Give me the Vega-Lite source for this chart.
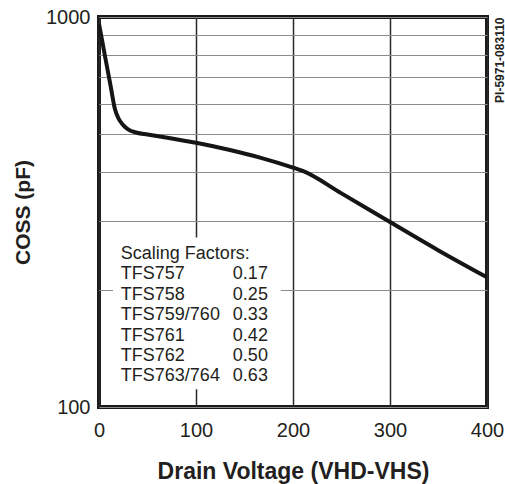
{
  "$schema": "https://vega.github.io/schema/vega-lite/v6.json",
  "width": 388,
  "height": 390,
  "autosize": "none",
  "padding": {"left": 99, "top": 17, "right": 18, "bottom": 77},
  "background": "white",
  "config": {
    "font": "Liberation Sans",
    "view": {"stroke": "#1a1a1a", "strokeWidth": 4},
    "axis": {"labelFont": "Liberation Sans", "titleFont": "Liberation Sans", "labelColor": "#231f20", "titleColor": "#231f20", "domain": false, "ticks": false, "labelFlush": false}
  },
  "datasets": {
    "coss": [
      {"v": 0, "c": 960}, {"v": 4, "c": 849}, {"v": 8, "c": 751}, {"v": 12, "c": 665},
      {"v": 16.5, "c": 580}, {"v": 20, "c": 550}, {"v": 25, "c": 528}, {"v": 30, "c": 515},
      {"v": 39, "c": 505}, {"v": 50, "c": 500}, {"v": 75, "c": 488}, {"v": 100, "c": 476},
      {"v": 135, "c": 456}, {"v": 166, "c": 436}, {"v": 200, "c": 411}, {"v": 210, "c": 403},
      {"v": 250, "c": 353}, {"v": 300, "c": 298}, {"v": 350, "c": 252}, {"v": 400, "c": 215}
    ],
    "box": [{"v": 14.5, "v2": 187.5, "c": 111, "c2": 272}],
    "factors": [
      {"row": 0, "model": "Scaling Factors:", "factor": ""},
      {"row": 1, "model": "TFS757", "factor": "0.17"},
      {"row": 2, "model": "TFS758", "factor": "0.25"},
      {"row": 3, "model": "TFS759/760", "factor": "0.33"},
      {"row": 4, "model": "TFS761", "factor": "0.42"},
      {"row": 5, "model": "TFS762", "factor": "0.50"},
      {"row": 6, "model": "TFS763/764", "factor": "0.63"}
    ]
  },
  "layer": [
    {
      "layer": [
        {
          "data": {"name": "box"},
          "mark": {"type": "rect", "fill": "white"},
          "encoding": {
            "x": {"field": "v", "type": "quantitative", "scale": {"domain": [0, 400], "nice": false}},
            "x2": {"field": "v2"},
            "y": {"field": "c", "type": "quantitative", "scale": {"type": "log", "domain": [100, 1000], "nice": false}, "axis": null},
            "y2": {"field": "c2"}
          }
        },
        {
          "data": {"name": "coss"},
          "mark": {"type": "line", "color": "#151515", "strokeWidth": 4, "interpolate": "monotone", "clip": true},
          "encoding": {
            "x": {
              "field": "v", "type": "quantitative",
              "scale": {"domain": [0, 400], "nice": false},
              "axis": {
                "values": [0, 100, 200, 300, 400], "grid": true, "gridColor": "#2a2a2a", "gridWidth": 1.5,
                "labelFontSize": 20, "labelPadding": 13,
                "title": "Drain Voltage (VHD-VHS)", "titleFontSize": 23, "titleFontWeight": "bold", "titlePadding": 20
              }
            },
            "y": {
              "field": "c", "type": "quantitative",
              "scale": {"type": "log", "domain": [100, 1000], "nice": false},
              "axis": {
                "values": [100, 200, 300, 400, 500, 600, 700, 800, 900, 1000],
                "labelExpr": "datum.value == 100 ? '100' : datum.value == 1000 ? '1000' : ''",
                "grid": true, "gridColor": "#8c8c8c", "gridWidth": 1.2,
                "labelFontSize": 20, "labelPadding": 9,
                "title": "COSS (pF)", "titleFontSize": 21, "titleFontWeight": "bold", "titlePadding": 12
              }
            }
          }
        },
        {
          "data": {"name": "coss"},
          "mark": {"type": "line", "opacity": 0},
          "encoding": {
            "x": {"field": "v", "type": "quantitative"},
            "y": {
              "field": "c", "type": "quantitative",
              "axis": {
                "orient": "right", "labels": false, "ticks": false, "domain": false, "grid": false,
                "title": "PI-5971-083110", "titleFontSize": 12, "titleFontWeight": "bold",
                "titleAngle": 270, "titleAnchor": "end", "titlePadding": 19
              }
            }
          }
        }
      ],
      "resolve": {"axis": {"y": "independent"}}
    },
    {
      "data": {"name": "factors"},
      "mark": {"type": "text", "align": "left", "baseline": "middle", "fontSize": 18, "color": "#231f20"},
      "encoding": {
        "x": {"datum": 22.5, "type": "quantitative"},
        "y": {"field": "row", "type": "quantitative", "scale": {"domain": [-11.62, 7.5], "reverse": true, "nice": false, "zero": false}, "axis": null},
        "text": {"field": "model"}
      }
    },
    {
      "data": {"name": "factors"},
      "mark": {"type": "text", "align": "left", "baseline": "middle", "fontSize": 18, "color": "#231f20"},
      "encoding": {
        "x": {"datum": 138, "type": "quantitative"},
        "y": {"field": "row", "type": "quantitative", "scale": {"domain": [-11.62, 7.5], "reverse": true, "nice": false, "zero": false}, "axis": null},
        "text": {"field": "factor"}
      }
    }
  ],
  "resolve": {"scale": {"y": "independent"}}
}
